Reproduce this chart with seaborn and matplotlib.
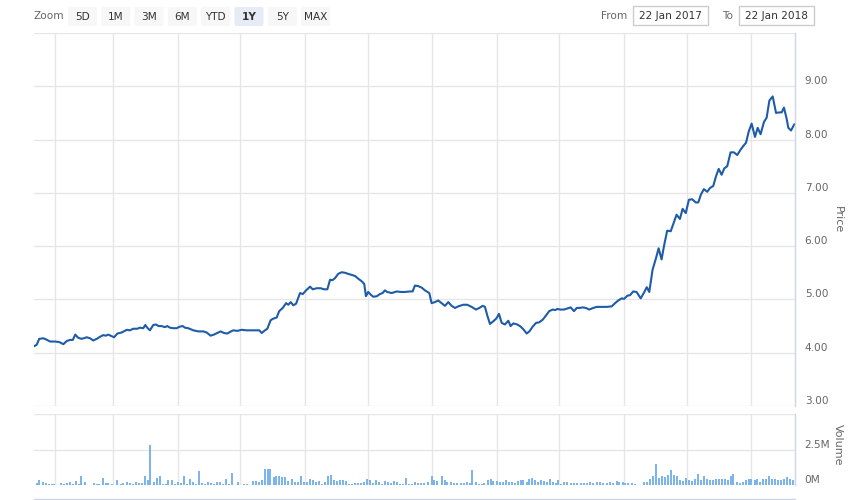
import matplotlib
matplotlib.use("Agg")
import numpy as np
import pandas as pd
import matplotlib.pyplot as plt
import matplotlib.dates as mdates
from matplotlib.patches import FancyBboxPatch, Rectangle
import seaborn as sns

# ---------------- data ----------------
start_date = "2017-01-22"
end_date = "2018-01-22"

price_days = [
    0.0, 1.3, 2.5, 4.5, 5.8, 7.7, 10.1, 12.1, 14.1, 15.7,
    17.3, 18.6, 19.8, 21.2, 22.9, 25.3, 26.9, 28.4, 30.1, 31.7,
    33.2, 34.5, 35.6, 37.3, 38.4, 40.0, 42.1, 44.5, 46.0, 47.6,
    49.5, 50.8, 52.4, 53.4, 54.3, 55.6, 57.2, 58.5, 59.8, 61.2,
    62.8, 63.9, 65.2, 66.8, 68.4, 70.0, 71.3, 72.4, 74.0, 76.4,
    78.8, 81.2, 82.8, 84.7, 86.3, 87.9, 89.5, 91.1, 92.7, 94.0,
    95.6, 97.5, 99.6, 102.0, 105.2, 108.1, 109.2, 110.8, 111.9, 113.5,
    114.8, 116.4, 117.6, 119.3, 120.9, 122.0, 123.1, 124.4, 125.7, 127.6,
    128.9, 130.5, 132.4, 133.7, 135.6, 137.5, 139.1, 140.7, 142.0, 143.1,
    144.4, 145.9, 147.6, 149.2, 150.7, 152.4, 154.0, 155.5, 157.2, 158.4,
    159.2, 160.3, 161.5, 162.7, 164.4, 165.9, 167.2, 168.3, 169.4, 171.6,
    174.0, 175.9, 177.9, 180.3, 181.6, 182.7, 184.3, 186.0, 187.5, 189.6,
    190.7, 192.3, 193.9, 195.5, 197.1, 198.7, 200.3, 201.9, 203.5, 205.9,
    207.8, 209.9, 212.0, 213.6, 215.2, 216.3, 217.4, 218.7, 220.6, 221.9,
    223.0, 224.3, 225.9, 227.5, 228.6, 229.9, 231.8, 233.4, 234.7, 236.3,
    237.6, 239.2, 240.8, 242.3, 244.0, 245.6, 247.1, 248.8, 249.9, 251.0,
    252.6, 254.2, 255.8, 257.4, 259.0, 260.3, 261.5, 263.2, 264.7, 266.3,
    268.2, 269.9, 272.3, 274.7, 277.1, 278.7, 280.2, 281.9, 283.0, 284.6,
    285.9, 287.4, 289.0, 291.0, 292.6, 293.9, 295.1, 296.7, 298.3, 299.6,
    301.0, 302.3, 303.7, 305.4, 307.0, 308.2, 309.8, 311.1, 312.6, 314.1,
    315.7, 317.4, 318.6, 319.9, 321.3, 322.9, 324.2, 325.8, 327.1, 328.4,
    329.8, 331.1, 332.5, 334.1, 335.7, 337.3, 338.9, 340.2, 341.5, 342.8,
    344.2, 345.8, 347.1, 348.5, 350.1, 351.4, 352.7, 354.3, 355.9, 357.5,
    358.6, 359.7, 361.0, 361.8, 363.1, 364.7,
]
price_values = [
    4.12, 4.15, 4.26, 4.27, 4.25, 4.21, 4.21, 4.20, 4.16, 4.22,
    4.24, 4.24, 4.34, 4.28, 4.26, 4.29, 4.27, 4.23, 4.26, 4.30,
    4.33, 4.32, 4.34, 4.31, 4.29, 4.36, 4.38, 4.43, 4.42, 4.45,
    4.45, 4.47, 4.46, 4.52, 4.47, 4.42, 4.52, 4.53, 4.50, 4.50,
    4.48, 4.50, 4.47, 4.46, 4.46, 4.49, 4.50, 4.47, 4.46, 4.42,
    4.40, 4.40, 4.38, 4.32, 4.34, 4.37, 4.40, 4.37, 4.36, 4.39,
    4.42, 4.41, 4.43, 4.42, 4.42, 4.42, 4.37, 4.42, 4.45, 4.61,
    4.64, 4.66, 4.78, 4.84, 4.93, 4.90, 4.95, 4.89, 4.92, 5.12,
    5.10, 5.17, 5.24, 5.19, 5.21, 5.21, 5.19, 5.19, 5.37, 5.36,
    5.40, 5.48, 5.51, 5.50, 5.48, 5.46, 5.44, 5.39, 5.34, 5.29,
    5.06, 5.14, 5.09, 5.05, 5.06, 5.10, 5.12, 5.17, 5.14, 5.12,
    5.15, 5.14, 5.14, 5.15, 5.15, 5.26, 5.25, 5.22, 5.17, 5.12,
    4.93, 4.95, 4.98, 4.93, 4.88, 4.95, 4.88, 4.84, 4.87, 4.90,
    4.90, 4.86, 4.81, 4.84, 4.88, 4.86, 4.70, 4.54, 4.60, 4.65,
    4.73, 4.56, 4.53, 4.60, 4.50, 4.55, 4.53, 4.49, 4.44, 4.36,
    4.40, 4.49, 4.56, 4.57, 4.62, 4.70, 4.78, 4.81, 4.80, 4.82,
    4.81, 4.81, 4.83, 4.85, 4.78, 4.84, 4.84, 4.85, 4.84, 4.81,
    4.84, 4.86, 4.86, 4.86, 4.87, 4.93, 4.98, 5.02, 5.01, 5.07,
    5.08, 5.15, 5.14, 5.02, 5.13, 5.23, 5.14, 5.56, 5.77, 5.96,
    5.75, 6.03, 6.29, 6.28, 6.46, 6.59, 6.51, 6.70, 6.62, 6.87,
    6.88, 6.82, 6.82, 6.97, 7.07, 7.02, 7.09, 7.13, 7.31, 7.45,
    7.34, 7.46, 7.50, 7.76, 7.76, 7.71, 7.81, 7.88, 7.94, 8.15,
    8.30, 8.05, 8.22, 8.10, 8.33, 8.41, 8.73, 8.81, 8.50, 8.51,
    8.51, 8.60, 8.39, 8.22, 8.17, 8.29,
]

volume_days = [
    1.3, 2.5, 4.2, 5.8, 7.1, 8.5, 9.7, 12.8, 14.2, 15.7,
    17.1, 18.6, 20.1, 21.4, 22.7, 24.3, 28.8, 30.1, 31.3, 32.9,
    34.4, 35.6, 37.4, 40.0, 41.6, 42.8, 44.5, 45.9, 47.3, 48.9,
    50.2, 51.7, 53.2, 54.5, 55.8, 57.6, 59.0, 60.3, 61.9, 63.2,
    64.4, 66.0, 67.5, 69.2, 70.5, 71.8, 73.2, 74.7, 76.1, 77.6,
    79.1, 80.6, 82.0, 83.5, 84.7, 86.2, 87.8, 89.1, 90.6, 92.1,
    93.5, 95.0, 97.8, 100.7, 102.2, 104.9, 106.3, 107.8, 109.2, 110.8,
    112.1, 113.3, 115.0, 116.2, 117.6, 119.1, 120.5, 122.0, 123.6, 125.0,
    126.5, 128.1, 129.5, 131.1, 132.4, 133.7, 135.3, 136.5, 138.1, 139.6,
    140.9, 142.3, 144.0, 145.3, 146.8, 148.1, 149.6, 151.2, 152.5, 154.0,
    155.5, 156.8, 158.3, 159.9, 161.2, 162.6, 164.0, 165.5, 166.9, 168.5,
    169.9, 171.2, 172.8, 174.2, 175.5, 177.1, 178.4, 180.0, 181.3, 182.7,
    184.3, 185.8, 187.2, 188.8, 190.7, 191.8, 193.4, 195.5, 197.0, 198.2,
    199.9, 201.4, 203.0, 204.7, 206.2, 207.5, 209.1, 210.2, 211.8, 213.4,
    214.7, 216.0, 217.6, 219.0, 220.3, 221.9, 223.5, 225.1, 226.4, 227.8,
    229.1, 230.7, 232.0, 233.4, 234.7, 236.3, 237.6, 239.0, 240.3, 241.9,
    243.3, 244.6, 245.9, 247.5, 249.1, 250.4, 251.5, 252.6, 254.2, 255.8,
    257.4, 259.0, 260.6, 262.2, 263.8, 265.4, 266.7, 268.3, 269.9, 271.5,
    273.1, 274.7, 276.3, 277.8, 279.5, 280.7, 282.3, 283.6, 285.0, 286.7,
    288.2, 292.7, 294.1, 295.4, 296.7, 298.2, 299.6, 301.1, 302.5, 303.9,
    305.4, 306.8, 308.2, 309.7, 311.1, 312.6, 314.0, 315.4, 316.9, 318.3,
    319.8, 321.2, 322.6, 324.1, 325.5, 327.0, 328.4, 329.8, 331.3, 332.7,
    334.1, 335.4, 337.0, 338.5, 339.9, 341.3, 342.8, 344.0, 345.7, 346.9,
    348.4, 349.8, 351.1, 352.7, 354.1, 355.5, 357.0, 358.4, 359.9, 361.3,
    362.6, 363.9,
]
volume_millions = [
    0.17, 0.36, 0.24, 0.17, 0.10, 0.07, 0.07, 0.14, 0.10, 0.17,
    0.24, 0.10, 0.29, 0.10, 0.60, 0.21, 0.14, 0.10, 0.10, 0.52,
    0.14, 0.14, 0.07, 0.33, 0.07, 0.14, 0.21, 0.14, 0.10, 0.21,
    0.14, 0.14, 0.64, 0.33, 2.79, 0.21, 0.48, 0.60, 0.07, 0.07,
    0.33, 0.33, 0.07, 0.21, 0.17, 0.64, 0.07, 0.40, 0.21, 0.07,
    1.00, 0.14, 0.07, 0.21, 0.14, 0.07, 0.21, 0.21, 0.07, 0.40,
    0.07, 0.86, 0.21, 0.07, 0.07, 0.29, 0.29, 0.21, 0.36, 1.12,
    1.12, 1.12, 0.55, 0.60, 0.60, 0.55, 0.55, 0.29, 0.40, 0.21,
    0.21, 0.64, 0.21, 0.21, 0.40, 0.36, 0.21, 0.26, 0.07, 0.21,
    0.64, 0.71, 0.36, 0.29, 0.36, 0.36, 0.29, 0.07, 0.07, 0.14,
    0.14, 0.14, 0.21, 0.40, 0.33, 0.14, 0.33, 0.21, 0.07, 0.29,
    0.21, 0.14, 0.29, 0.21, 0.07, 0.07, 0.52, 0.07, 0.07, 0.21,
    0.14, 0.14, 0.14, 0.21, 0.64, 0.36, 0.29, 0.64, 0.36, 0.21,
    0.21, 0.14, 0.14, 0.14, 0.14, 0.21, 0.14, 1.07, 0.21, 0.07,
    0.07, 0.14, 0.36, 0.45, 0.29, 0.29, 0.21, 0.21, 0.36, 0.21,
    0.21, 0.14, 0.29, 0.36, 0.36, 0.21, 0.45, 0.52, 0.36, 0.21,
    0.36, 0.29, 0.21, 0.40, 0.21, 0.14, 0.36, 0.07, 0.21, 0.21,
    0.14, 0.14, 0.14, 0.14, 0.14, 0.14, 0.21, 0.14, 0.21, 0.21,
    0.14, 0.14, 0.21, 0.14, 0.29, 0.21, 0.21, 0.14, 0.14, 0.14,
    0.07, 0.21, 0.21, 0.45, 0.60, 1.50, 0.52, 0.60, 0.55, 0.71,
    1.07, 0.71, 0.60, 0.36, 0.29, 0.52, 0.36, 0.29, 0.45, 0.79,
    0.36, 0.60, 0.45, 0.36, 0.36, 0.45, 0.45, 0.40, 0.45, 0.36,
    0.64, 0.79, 0.21, 0.14, 0.21, 0.36, 0.40, 0.40, 0.36, 0.45,
    0.21, 0.40, 0.45, 0.60, 0.45, 0.40, 0.36, 0.36, 0.45, 0.55,
    0.45, 0.36,
]

price_ticks = [3, 4, 5, 6, 7, 8, 9, 10]
price_tick_labels = ["3.00", "4.00", "5.00", "6.00", "7.00", "8.00", "9.00", ""]
volume_ticks = [0, 2.5, 5]
volume_tick_labels = ["0M", "2.5M", ""]
zoom_buttons = ["5D", "1M", "3M", "6M", "YTD", "1Y", "5Y", "MAX"]
selected_button = "1Y"
from_text = "22 Jan 2017"
to_text = "22 Jan 2018"

# ---------------- style ----------------
sns.set_theme(style="white")
plt.rcParams["font.family"] = ["DejaVu Sans"]

LINE = "#1f5ca8"
BAR = "#7cb5ec"
GRID = "#e6e6e6"
AXIS = "#ccd6eb"
LABEL = "#666666"
FS = 7.6

W, H = 860, 500
fig = plt.figure(figsize=(W / 100, H / 100), dpi=100)
fig.patch.set_facecolor("white")

t0 = pd.Timestamp(start_date)
t1 = pd.Timestamp(end_date)
price_df = pd.DataFrame({
    "date": t0 + pd.to_timedelta(price_days, unit="D"),
    "price": price_values,
})
vol_df = pd.DataFrame({
    "date": t0 + pd.to_timedelta(volume_days, unit="D"),
    "volume": volume_millions,
})

ax_p = fig.add_axes([34 / W, 1 - 406 / H, 761 / W, 373 / H])
ax_v = fig.add_axes([34 / W, 1 - 485 / H, 761 / W, 71 / H], sharex=ax_p)

sns.lineplot(data=price_df, x="date", y="price", ax=ax_p, color=LINE,
             linewidth=1.5, estimator=None, sort=False)
ax_v.bar(vol_df["date"], vol_df["volume"], width=0.95, color=BAR,
         edgecolor="none", zorder=3)

for ax, ticks, labels, ylim in [
    (ax_p, price_ticks, price_tick_labels, (3, 10)),
    (ax_v, volume_ticks, volume_tick_labels, (0, 5)),
]:
    ax.set_facecolor("white")
    ax.set_xlim(t0, t1)
    ax.set_ylim(*ylim)
    ax.set_yticks(ticks)
    ax.set_yticklabels(labels)
    ax.yaxis.tick_right()
    ax.xaxis.set_major_locator(mdates.MonthLocator(bymonthday=1))
    ax.tick_params(axis="x", length=0, labelbottom=False)
    ax.tick_params(axis="y", length=0, pad=7, labelsize=FS, labelcolor=LABEL)
    for lbl in ax.get_yticklabels():
        lbl.set_verticalalignment("bottom")
    ax.grid(True, color=GRID, linewidth=1)
    ax.set_axisbelow(True)
    for side in ["left", "top", "bottom"]:
        ax.spines[side].set_visible(False)
    ax.spines["right"].set_color(AXIS)
    ax.spines["right"].set_linewidth(1)
    ax.set_xlabel("")
    ax.set_ylabel("")

fig.text(838 / W, 1 - 220 / H, "Price", rotation=270, ha="center",
         va="center", fontsize=8, color=LABEL)
fig.text(838 / W, 1 - 445 / H, "Volume", rotation=270, ha="center",
         va="center", fontsize=8, color=LABEL)

# ---------------- range selector UI ----------------
ui = fig.add_axes([0, 0, 1, 1], zorder=-1)
ui.set_xlim(0, W)
ui.set_ylim(H, 0)
ui.axis("off")

ui.text(34, 16, "Zoom", ha="left", va="center", fontsize=FS, color=LABEL)
for i, name in enumerate(zoom_buttons):
    x0 = 68 + i * 33.3
    sel = name == selected_button
    ui.add_patch(FancyBboxPatch((x0, 7), 29, 19,
                                boxstyle="round,pad=0,rounding_size=2",
                                fc="#e6ebf5" if sel else "#f7f7f7", ec="none"))
    ui.text(x0 + 14.5, 16.5, name, ha="center", va="center", fontsize=FS,
            color="#333333", fontweight="bold" if sel else "normal")

ui.text(627, 16, "From", ha="right", va="center", fontsize=FS, color=LABEL)
ui.add_patch(Rectangle((633, 6), 75, 19, fc="white", ec="#cccccc", lw=1))
ui.text(670.5, 16, from_text, ha="center", va="center", fontsize=FS, color="#333333")
ui.text(733, 16, "To", ha="right", va="center", fontsize=FS, color=LABEL)
ui.add_patch(Rectangle((739, 6), 75, 19, fc="white", ec="#cccccc", lw=1))
ui.text(776.5, 16, to_text, ha="center", va="center", fontsize=FS, color="#333333")

ui.plot([34, 795], [499, 499], color=AXIS, linewidth=1)

fig.savefig("out.png", dpi=100, facecolor="white")
